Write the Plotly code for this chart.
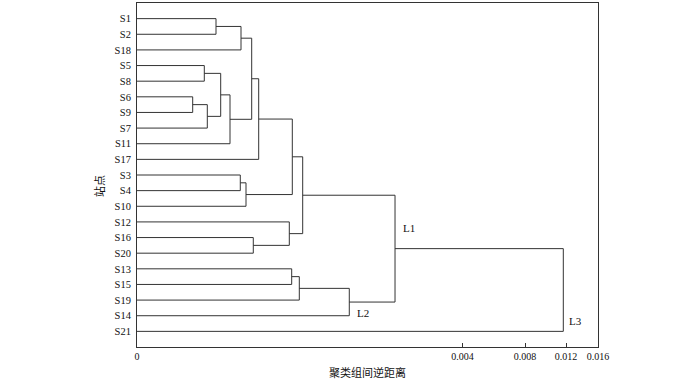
import plotly.graph_objects as go

# Leaf order (top to bottom)
leaves = ["S1", "S2", "S18", "S5", "S8", "S6", "S9", "S7", "S11", "S17",
          "S3", "S4", "S10", "S12", "S16", "S20", "S13", "S15", "S19", "S14", "S21"]

# Merges: (left, right, height); ids >= 21 refer to earlier merges (21 + index)
merge_left = ["S1", 21, "S5", "S6", 24, 23, 26, 22, 28, "S3", 30, 29, "S16", "S12", 32, "S13", 36, 37, 35, 39]
merge_right = ["S2", "S18", "S8", "S9", "S7", 25, "S11", 27, "S17", "S4", "S10", 31, "S20", 33, 34, "S15", "S19", "S14", 38, "S21"]
merge_height = [0.002742, 0.003610, 0.002336, 0.001933, 0.002440, 0.002905, 0.003228,
                0.003981, 0.004224, 0.003585, 0.003783, 0.005390, 0.004036, 0.005286,
                0.005751, 0.005369, 0.005633, 0.007368, 0.008955, 0.014796]

tick_vals = [0, 0.0113, 0.01347, 0.01489, 0.016]
tick_text = ["0", "0.004", "0.008", "0.012", "0.016"]

cluster_labels = ["L1", "L2", "L3"]
cluster_label_x = [0.00916, 0.00757, 0.01492]
cluster_label_y = [14.4, 19.8, 20.36]

n = len(leaves)
pos = {}
for i, name in enumerate(leaves):
    pos[name] = (0.0, i + 1)

xs, ys = [], []
for k, (a, b, h) in enumerate(zip(merge_left, merge_right, merge_height)):
    xa, ya = pos[a]
    xb, yb = pos[b]
    xs += [xa, h, h, xb, None]
    ys += [ya, ya, yb, yb, None]
    pos[n + k] = (h, (ya + yb) / 2)

serif = "Liberation Serif, Times New Roman, serif"
cjk = "Noto Sans CJK SC"
txt = "#111111"

fig = go.Figure()
fig.add_trace(go.Scatter(x=xs, y=ys, mode="lines",
                         line=dict(color="#333333", width=1),
                         hoverinfo="skip", showlegend=False))

for t, x, y in zip(cluster_labels, cluster_label_x, cluster_label_y):
    fig.add_annotation(x=x, y=y, text=t, showarrow=False, xanchor="left",
                       yanchor="middle", font=dict(family=serif, size=11, color=txt))

fig.add_annotation(xref="paper", yref="paper", x=-0.0824, y=0.468, text="站点",
                   textangle=-90, showarrow=False, xanchor="center", yanchor="middle",
                   font=dict(family=cjk, size=11, color=txt))
fig.add_annotation(xref="paper", yref="paper", x=0.501, y=-0.073, text="聚类组间逆距离",
                   showarrow=False, xanchor="center", yanchor="middle",
                   font=dict(family=cjk, size=11, color=txt))

fig.update_layout(
    width=700, height=379,
    margin=dict(l=137, r=102, t=3, b=32),
    plot_bgcolor="white", paper_bgcolor="white",
    xaxis=dict(range=[0, 0.016], showgrid=False, zeroline=False,
               showline=True, linecolor="#333", linewidth=1, mirror=True,
               tickmode="array", tickvals=tick_vals, ticktext=tick_text,
               ticks="inside", ticklen=4, tickcolor="#333",
               tickfont=dict(family=serif, size=10, color=txt)),
    yaxis=dict(range=[22, 0], showgrid=False, zeroline=False,
               showline=True, linecolor="#333", linewidth=1, mirror=True,
               tickmode="array", tickvals=list(range(1, n + 1)), ticktext=leaves,
               ticks="", ticklabelstandoff=3,
               tickfont=dict(family=serif, size=10.5, color=txt)),
)

fig.write_html("out.html", config={"displayModeBar": False},
               post_script="document.body.style.margin='0';document.body.style.overflow='hidden';")
